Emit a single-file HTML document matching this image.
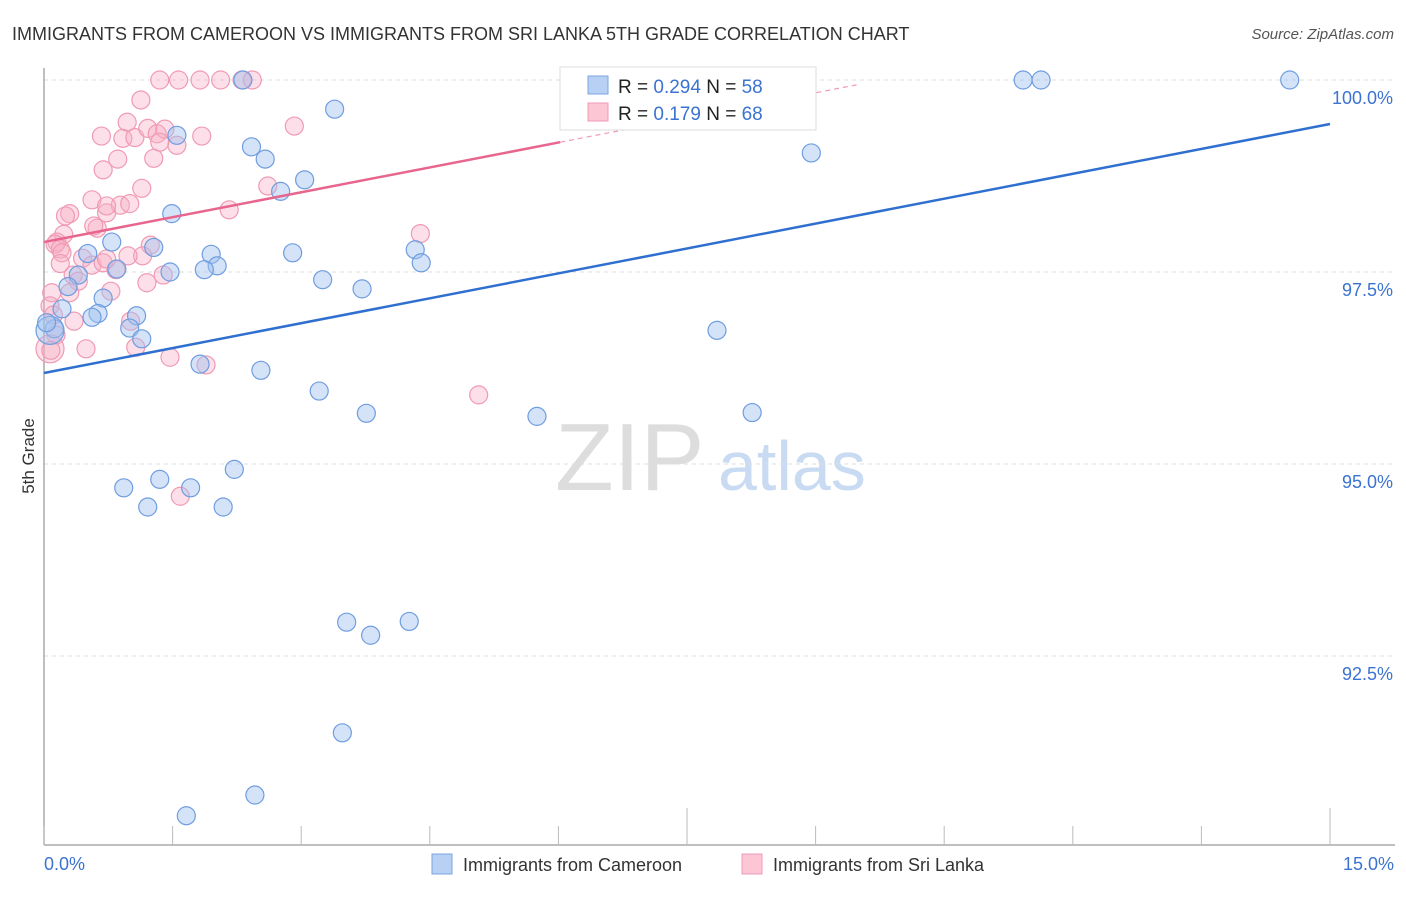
<!DOCTYPE html>
<html><head><meta charset="utf-8"><style>
body{margin:0;background:#fff;font-family:"Liberation Sans",sans-serif;}
svg text{font-family:"Liberation Sans",sans-serif;}
</style></head><body>
<svg width="1406" height="892">
<text x="12" y="40" font-size="18" fill="#333">IMMIGRANTS FROM CAMEROON VS IMMIGRANTS FROM SRI LANKA 5TH GRADE CORRELATION CHART</text>
<text x="1394" y="39" font-size="15" fill="#555" font-style="italic" text-anchor="end">Source: ZipAtlas.com</text>
<text x="555" y="490" font-size="96" fill="#ddd" font-family="Liberation Serif">ZIP</text>
<text x="718" y="490" font-size="70" fill="#c9dbf2">atlas</text>
<g id="grid"></g>
<g id="axes"></g>
<g id="marks"></g>
<g>
<rect x="560" y="67" width="256" height="63" fill="#fff" stroke="#ddd"/>
<rect x="588" y="76" width="20" height="18" fill="#b7d0f3" stroke="#7ba6e0"/>
<text x="618" y="93" font-size="19" fill="#222">R = <tspan fill="#3b73d0">0.294</tspan>   N = <tspan fill="#3b73d0">58</tspan></text>
<rect x="588" y="103" width="20" height="18" fill="#fcc6d5" stroke="#f09ab4"/>
<text x="618" y="120" font-size="19" fill="#222">R =  <tspan fill="#3b73d0">0.179</tspan>   N = <tspan fill="#3b73d0">68</tspan></text>
</g>
<text x="34" y="456" font-size="17" fill="#333" transform="rotate(-90 34 456)" text-anchor="middle">5th Grade</text>
<text x="44" y="870" font-size="18" fill="#3b73d0">0.0%</text>
<text x="1394" y="870" font-size="18" fill="#3b73d0" text-anchor="end">15.0%</text>
<g>
<rect x="432" y="854" width="20" height="20" fill="#b7d0f3" stroke="#7ba6e0"/>
<text x="463" y="871" font-size="18" fill="#333">Immigrants from Cameroon</text>
<rect x="742" y="854" width="20" height="20" fill="#fcc6d5" stroke="#f09ab4"/>
<text x="773" y="871" font-size="18" fill="#333">Immigrants from Sri Lanka</text>
</g>
</svg>
<script>
const yTicks=[100,97.5,95,92.5];
const yTickLabels=["100.0%","97.5%","95.0%","92.5%"];
const blueX=[2.32,6.65,8.67,11.42,11.63,14.53,3.39,1.55,2.42,2.58,8.95,3.04,2.76,1.49,0.79,1.28,0.51,1.95,2.90,4.33,4.40,2.02,1.87,1.47,0.85,0.40,3.25,3.71,0.28,0.69,0.63,0.56,1.08,1.00,1.14,0.12,0.07,7.85,1.82,2.53,3.21,3.76,5.75,8.26,2.22,1.35,0.93,1.71,1.21,2.09,3.53,3.81,4.26,3.48,2.46,1.66,0.03,0.21];
const blueY=[100,100,100,100,100,100,99.62,99.28,99.13,98.97,99.05,98.70,98.55,98.26,97.89,97.82,97.74,97.73,97.75,97.79,97.62,97.58,97.53,97.50,97.54,97.46,97.40,97.28,97.31,97.16,96.96,96.91,96.93,96.77,96.63,96.76,96.74,96.74,96.30,96.22,95.95,95.66,95.62,95.67,94.93,94.80,94.69,94.69,94.44,94.44,92.94,92.77,92.95,91.50,90.69,90.42,96.84,97.02];
const pinkX=[1.35,1.57,1.82,2.06,2.31,2.43,1.13,0.97,0.67,0.92,1.06,1.21,1.32,1.41,1.55,1.35,1.84,2.92,0.86,1.28,0.69,1.14,0.56,0.89,1.00,0.73,2.61,2.16,0.30,0.25,0.73,0.62,0.58,0.23,0.15,0.13,0.19,0.21,1.24,1.15,4.39,0.45,0.56,0.69,0.84,1.39,0.34,1.20,0.40,0.78,0.30,0.09,0.07,0.11,0.35,1.01,0.14,0.07,0.08,0.49,1.07,1.47,1.89,5.07,1.59,0.19,0.98,0.73];
const pinkY=[100,100,100,100,100,100,99.74,99.45,99.27,99.24,99.25,99.37,99.30,99.36,99.15,99.19,99.27,99.40,98.97,98.98,98.83,98.59,98.44,98.37,98.39,98.27,98.62,98.31,98.26,98.23,98.36,98.07,98.10,97.99,97.89,97.86,97.80,97.75,97.85,97.71,98.00,97.68,97.59,97.62,97.53,97.46,97.46,97.36,97.38,97.25,97.23,97.23,97.06,96.94,96.86,96.86,96.68,96.50,96.48,96.50,96.52,96.39,96.29,95.90,94.58,97.61,97.71,97.67];
const blueTrend=[96.185,99.427];
const pinkTrend=[97.89,99.19];
const NS="http://www.w3.org/2000/svg";
const X0=44,X1=1330,Y100=80,PPY=76.8;
function sx(v){return X0+v/15*(X1-X0);}
function sy(v){return Y100+(100-v)*PPY;}
function mk(tag,attrs,parent){const e=document.createElementNS(NS,tag);for(const k in attrs)e.setAttribute(k,attrs[k]);parent.appendChild(e);return e;}
const grid=document.getElementById('grid'),axes=document.getElementById('axes'),marks=document.getElementById('marks');
yTicks.forEach((t,i)=>{
 const l=mk('line',{x1:44,x2:1395,y1:sy(t),y2:sy(t),stroke:'#ddd','stroke-dasharray':'4 4'},grid);
 
 
 const tx=mk('text',{x:1393,y:sy(t)+24,'font-size':18,fill:'#3b73d0','text-anchor':'end'},grid);
 tx.textContent=yTickLabels[i];
 
 
});
const ya=mk('line',{x1:44,x2:44,y1:68,y2:845,stroke:'#aaa','stroke-width':1.5},axes);


const xa=mk('line',{x1:44,x2:1395,y1:845,y2:845,stroke:'#aaa','stroke-width':1.5},axes);


for(let i=0;i<=10;i++){
 const x=sx(i*1.5);
 const tk=mk('line',{x1:x,x2:x,y1:(i==5||i==10)?808:826,y2:845,stroke:'#bbb'},axes);
 
 
}
function dots(xs,ys,fill,stroke,name){
 xs.forEach((v,i)=>{
  const big=(name==='cameroon-point'&&i===36)||(name==='srilanka-point'&&i===57);
  const c=mk('circle',{cx:sx(v),cy:sy(ys[i]),r:big?14:9,fill:fill,stroke:stroke,'stroke-width':1.2},marks);
  
  
 });
}
dots(pinkX,pinkY,'rgba(248,175,198,0.4)','#f09ab4','srilanka-point');
dots(blueX,blueY,'rgba(160,192,240,0.45)','#6f9de0','cameroon-point');
const bl=mk('line',{x1:sx(0),y1:sy(blueTrend[0]),x2:sx(15),y2:sy(blueTrend[1]),stroke:'#2f6fd0','stroke-width':2.5},marks);


const ps=(pinkTrend[1]-pinkTrend[0])/6.02;
const pl=mk('line',{x1:sx(0),y1:sy(pinkTrend[0]),x2:sx(6.02),y2:sy(pinkTrend[1]),stroke:'#e8658e','stroke-width':2.5},marks);


const xe=9.5;
const pd=mk('line',{x1:sx(6.02),y1:sy(pinkTrend[1]),x2:sx(xe),y2:sy(pinkTrend[0]+ps*xe),stroke:'#f09ab4','stroke-width':1.2,'stroke-dasharray':'5 4'},marks);


</script>
</body></html>
